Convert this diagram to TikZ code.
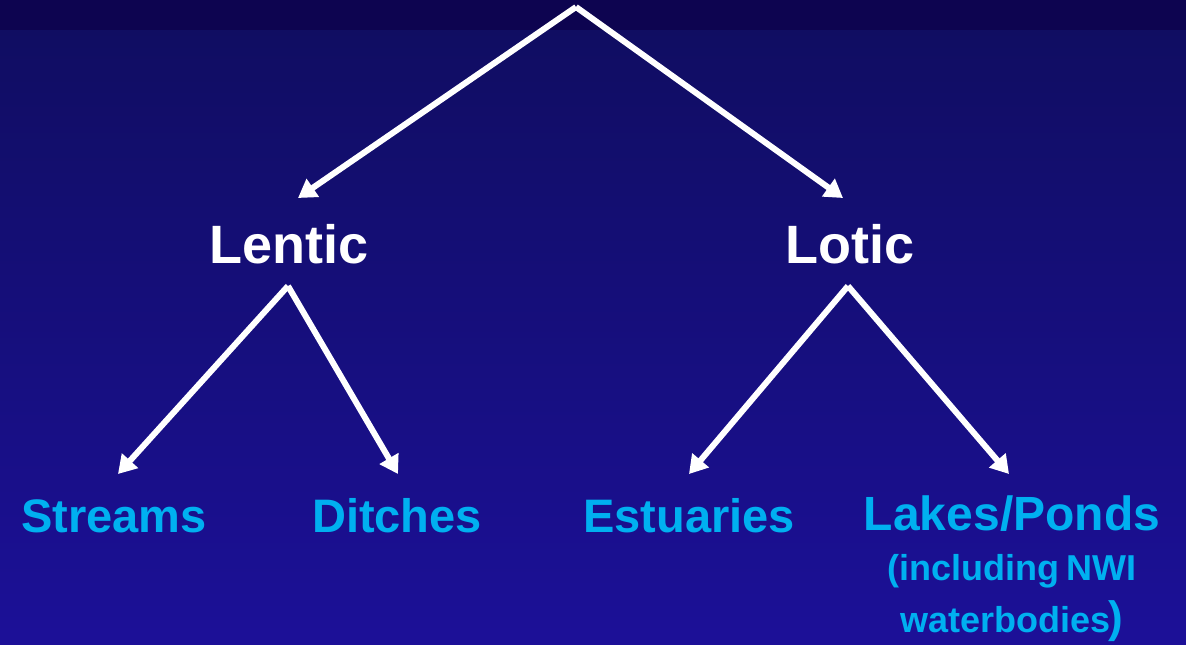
\documentclass[tikz,border=0pt]{standalone}
\usepackage{fontspec}
\setmainfont{Liberation Sans}
\usetikzlibrary{arrows.meta}
\definecolor{topband}{RGB}{13,4,80}
\definecolor{bgtop}{RGB}{16,13,98}
\definecolor{bgbot}{RGB}{28,16,152}
\definecolor{lightblue}{RGB}{0,176,240}
\tikzset{
  arr/.style={draw=white, line width=6pt, -{Triangle[length=18pt,width=21pt]}},
  head/.style={text=white, font=\bfseries\fontsize{54}{60}\selectfont, inner sep=0pt, anchor=base},
  leaf/.style={text=lightblue, font=\bfseries\fontsize{47}{52}\selectfont, inner sep=0pt, anchor=base},
  small/.style={text=lightblue, font=\bfseries\fontsize{36}{40}\selectfont, inner sep=0pt, anchor=base},
}
\begin{document}
\begin{tikzpicture}[x=1pt,y=-1pt]
\useasboundingbox (0,0) rectangle (1186,645);
\shade[top color=bgtop, bottom color=bgbot] (0,30) rectangle (1186,645);
\fill[topband] (0,0) rectangle (1186,30);
\coordinate (root) at (576,7);
\node[head] (lentic) at (289,263) {Lentic};
\node[head] (lotic) at (850,263) {Lotic};
\coordinate (lenticA) at (288,286);
\coordinate (loticA) at (848,286);
\node[leaf] (streams) at (114,532) {Streams};
\node[leaf] (ditches) at (397,532) {Ditches};
\node[leaf] (estuaries) at (689,532) {Estuaries};
\node[leaf,font=\bfseries\fontsize{48}{52}\selectfont] (lakes) at (1012,530) {Lakes/Ponds};
\node[small] (incl) at (1012,580) {(including\hspace{-3pt} NWI};
\node[small] (water) at (1012,632) {waterbodies\hspace{-2pt}{\fontsize{44}{48}\selectfont)}};
\coordinate (lenticT) at (298,198);
\coordinate (loticT) at (843,198);
\coordinate (streamsT) at (118,474);
\coordinate (ditchesT) at (398,474);
\coordinate (estuariesT) at (689,474);
\coordinate (lakesT) at (1009,474);
\draw[arr] (root) -- (lenticT);
\draw[arr] (root) -- (loticT);
\draw[arr] (lenticA) -- (streamsT);
\draw[arr] (lenticA) -- (ditchesT);
\draw[arr] (loticA) -- (estuariesT);
\draw[arr] (loticA) -- (lakesT);
\end{tikzpicture}
\end{document}
